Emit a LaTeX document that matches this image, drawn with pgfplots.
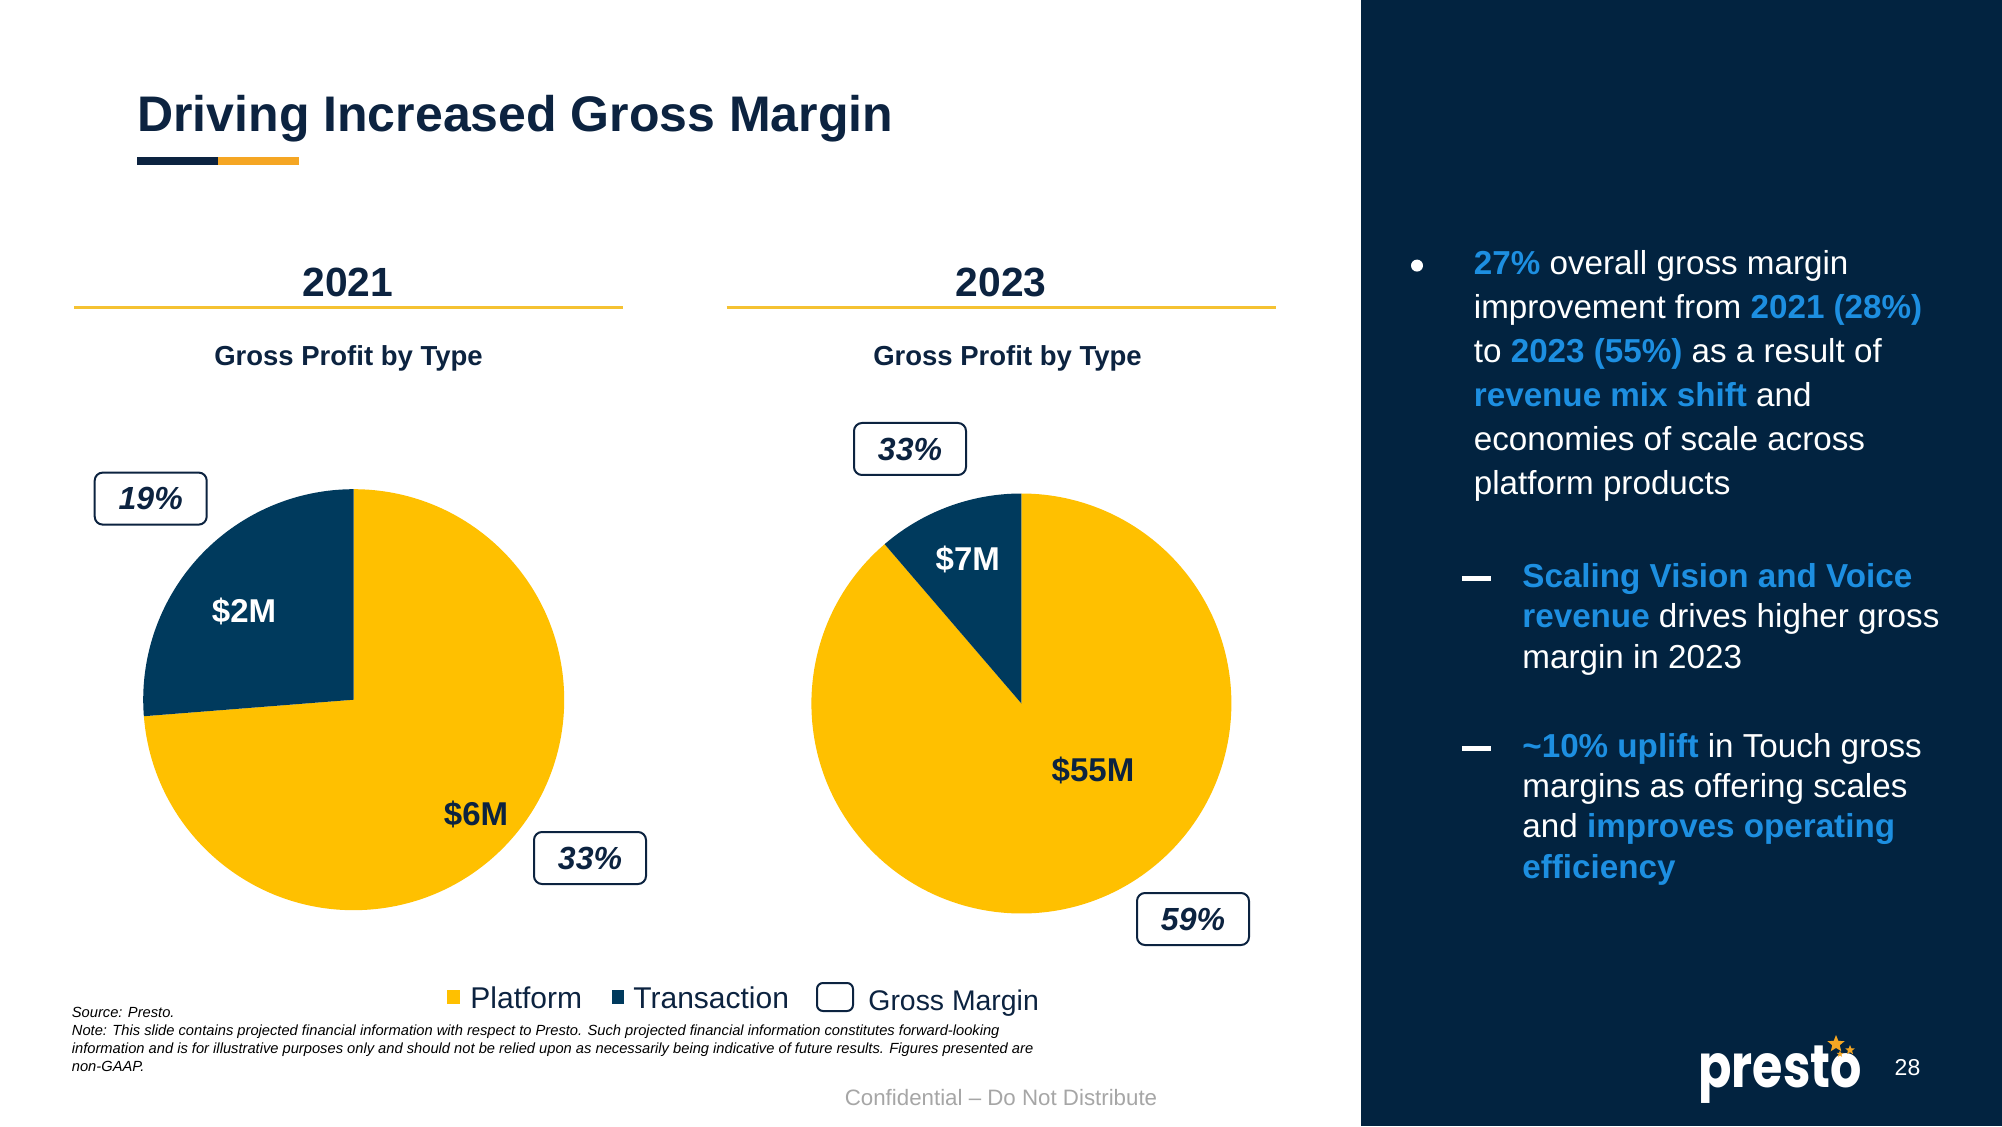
\documentclass[border=0pt]{standalone}
\usepackage{pgfplots}
\pgfplotsset{compat=1.18}
\usepackage{pgfplotstable}
\usepackage{fontspec}
\setmainfont{Liberation Sans}
\newfontfamily\logofont{Poppins}
\usetikzlibrary{shapes.geometric}
\definecolor{tnavy}{HTML}{0C2340}
\definecolor{panel}{HTML}{022340}
\definecolor{pieN}{HTML}{003A5D}
\definecolor{pieY}{HTML}{FFC000}
\definecolor{orng}{HTML}{F5A623}
\definecolor{gold}{HTML}{F5C232}
\definecolor{hl}{HTML}{1D8FE1}
\definecolor{gry}{HTML}{A6A6A6}
\newcommand{\hl}[1]{{\color{hl}\bfseries #1}}
\newcommand{\fs}[1]{\fontsize{#1}{#1}\selectfont}

\pgfplotstableread{
type value
Platform 5.9
Transaction 2.1
}\gpA
\pgfplotstableread{
type value
Platform 55
Transaction 7
}\gpB
\pgfplotstablegetelem{0}{value}\of\gpA \edef\pA{\pgfplotsretval}
\pgfplotstablegetelem{1}{value}\of\gpA \edef\tA{\pgfplotsretval}
\pgfplotstablegetelem{0}{value}\of\gpB \edef\pB{\pgfplotsretval}
\pgfplotstablegetelem{1}{value}\of\gpB \edef\tB{\pgfplotsretval}
\pgfmathsetmacro\aA{360*\tA/(\pA+\tA)}
\pgfmathsetmacro\aB{360*\tB/(\pB+\tB)}

\begin{document}
\begin{tikzpicture}[x=0.5pt,y=0.5pt]
\useasboundingbox (0,0) rectangle (2002,1126);
\fill[white] (0,0) rectangle (2002,1126);
\fill[panel] (1361,0) rectangle (2002,1126);

% title
\node[anchor=base west, inner sep=0pt, text=tnavy, font=\fs{25pt}\bfseries] at (137,994) {Driving Increased Gross Margin};
\fill[tnavy] (137,961) rectangle (218,969);
\fill[orng] (218,961) rectangle (299,969);

% years
\node[anchor=base, inner sep=0pt, text=tnavy, font=\fs{20.4pt}\bfseries] at (348,829) {2021};
\node[anchor=base, inner sep=0pt, text=tnavy, font=\fs{20.4pt}\bfseries] at (1001,829) {2023};
\draw[gold, line width=1.5pt] (74,818.3) -- (623,818.3);
\draw[gold, line width=1.5pt] (726.5,818.3) -- (1275.5,818.3);
\node[anchor=base, inner sep=0pt, text=tnavy, font=\fs{13.75pt}\bfseries] at (348.5,760) {Gross Profit by Type};
\node[anchor=base, inner sep=0pt, text=tnavy, font=\fs{13.75pt}\bfseries] at (1007.5,760) {Gross Profit by Type};

% pie 2021
\begin{axis}[at={(176.85pt,213.15pt)}, anchor=center, scale only axis, width=210.5pt, height=210.5pt,
  xmin=-1, xmax=1, ymin=-1, ymax=1, hide axis, clip=false]
\fill[pieY] (axis cs:0,0) -- (axis cs:{cos(90+\aA)},{sin(90+\aA)}) arc[start angle=90+\aA, end angle=450, radius=105.25pt] -- cycle;
\fill[pieN] (axis cs:0,0) -- (axis cs:0,1) arc[start angle=90, end angle=90+\aA, radius=105.25pt] -- cycle;
\end{axis}
% pie 2023
\begin{axis}[at={(510.7pt,211.25pt)}, anchor=center, scale only axis, width=210pt, height=210pt,
  xmin=-1, xmax=1, ymin=-1, ymax=1, hide axis, clip=false]
\fill[pieY] (axis cs:0,0) -- (axis cs:{cos(90+\aB)},{sin(90+\aB)}) arc[start angle=90+\aB, end angle=450, radius=105pt] -- cycle;
\fill[pieN] (axis cs:0,0) -- (axis cs:0,1) arc[start angle=90, end angle=90+\aB, radius=105pt] -- cycle;
\end{axis}

% pie labels
\node[text=white, font=\fs{16.5pt}\bfseries] at (244,514.4) {\$2M};
\node[text=tnavy, font=\fs{16.5pt}\bfseries] at (476,311.4) {\$6M};
\node[text=white, font=\fs{16.5pt}\bfseries] at (967.8,567) {\$7M};
\node[text=tnavy, font=\fs{16.5pt}\bfseries] at (1093,356) {\$55M};

% gross margin boxes
\tikzset{gm/.style={draw=tnavy, line width=1pt, fill=white, rounded corners=4pt, minimum width=56pt, minimum height=26pt, inner sep=0pt, text=tnavy, font=\fs{16pt}\bfseries\itshape}}
\node[gm] at (150.7,627.4) {19\%};
\node[gm] at (590,268) {33\%};
\node[gm] at (910,677) {33\%};
\node[gm] at (1193,207) {59\%};

% legend
\fill[pieY] (447,122.4) rectangle (460,136.5);
\node[anchor=base west, inner sep=0pt, text=tnavy, font=\fs{15pt}] at (470,118) {Platform};
\fill[pieN] (611.6,122.4) rectangle (624.4,136.5);
\node[anchor=base west, inner sep=0pt, text=tnavy, font=\fs{15pt}] at (633,118) {Transaction};
\draw[tnavy, line width=1pt, fill=white, rounded corners=3pt] (817,115) rectangle (853,143);
\node[anchor=base west, inner sep=0pt, text=tnavy, font=\fs{14.2pt}] at (868,115.5) {Gross Margin};

% footnotes
\begin{scope}[every node/.style={anchor=base west, inner sep=0pt, font=\fs{7.35pt}\itshape}]
\node at (71.5,109) {Source: Presto.};
\node at (71.5,91) {Note: This slide contains projected financial information with respect to Presto. Such projected financial information constitutes forward-looking};
\node at (71.5,73) {information and is for illustrative purposes only and should not be relied upon as necessarily being indicative of future results. Figures presented are};
\node at (71.5,55) {non-GAAP.};
\end{scope}
\node[anchor=base, inner sep=0pt, text=gry, font=\fs{11.15pt}] at (1001,21) {Confidential -- Do Not Distribute};

% right panel text
\fill[white] (1417,860.4) circle (6);
\begin{scope}[every node/.style={anchor=base west, inner sep=0pt, text=white, font=\fs{16.6pt}}]
\node at (1473.5,851) {\hl{27\%} overall gross margin};
\node at (1473.5,807) {improvement from \hl{2021 (28\%)}};
\node at (1473.5,763) {to \hl{2023 (55\%)} as a result of};
\node at (1473.5,719) {\hl{revenue mix shift} and};
\node at (1473.5,675) {economies of scale across};
\node at (1473.5,631) {platform products};
\node at (1522,538.3) {\hl{Scaling Vision and Voice}};
\node at (1522,498.1) {\hl{revenue} drives higher gross};
\node at (1522,457.9) {margin in 2023};
\node at (1522,368.5) {\hl{\textasciitilde10\% uplift} in Touch gross};
\node at (1522,328.3) {margins as offering scales};
\node at (1522,288.1) {and \hl{improves operating}};
\node at (1522,247.9) {\hl{efficiency}};
\end{scope}
\fill[white] (1462,545) rectangle (1491,550.2);
\fill[white] (1462,375.2) rectangle (1491,380.4);

% logo
\node[anchor=base west, inner sep=0pt, text=white, font=\logofont\fs{30pt}\bfseries] at (1698,39) {\scalebox{0.82}[1]{presto}};
\node[star, star points=5, star point ratio=2.3, fill=orng, inner sep=0pt, minimum size=9pt] at (1836,82) {};
\node[star, star points=5, star point ratio=2.3, fill=orng, inner sep=0pt, minimum size=5pt] at (1850,76) {};
\node[star, star points=5, star point ratio=2.3, fill=orng, inner sep=0pt, minimum size=3.5pt] at (1840,72) {};
\node[anchor=base, inner sep=0pt, text=white, font=\fs{11.5pt}] at (1907.5,51) {28};
\end{tikzpicture}
\end{document}
